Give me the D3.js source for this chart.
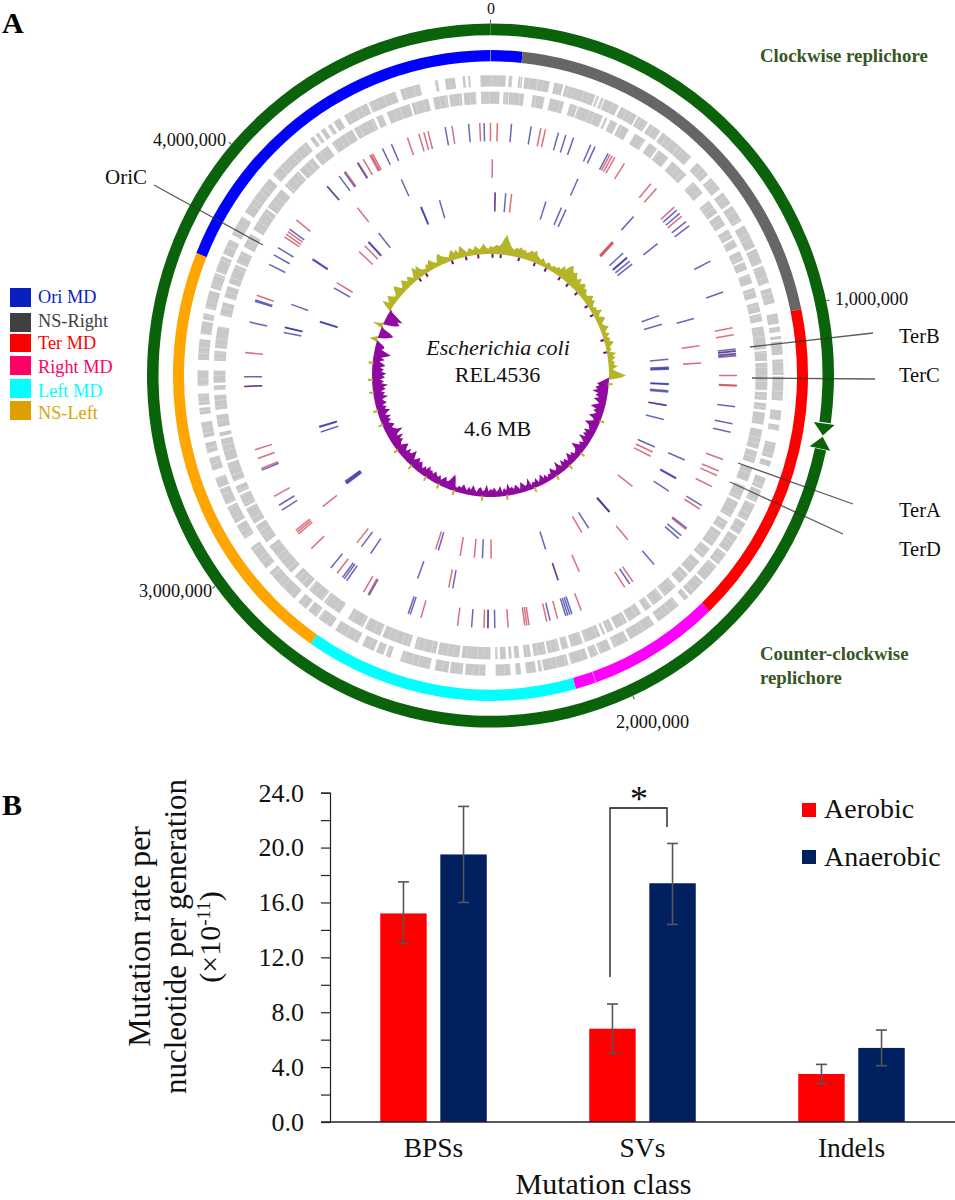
<!DOCTYPE html>
<html><head><meta charset="utf-8">
<script src="https://d3js.org/d3.v7.min.js"></script>
<style>html,body{margin:0;padding:0;background:#fff}svg{display:block}text{font-family:"Liberation Serif","Times New Roman",serif}</style>
</head><body><div id="chart"></div>
<script>
// ---------- Panel A data (map positions read in degrees clockwise from 0) ----------
const genomeLength = 4630000;
const genomeTicks = [0, 1000000, 2000000, 3000000, 4000000];
const macrodomainNames = ["Ori MD","NS-Right","Ter MD","Right MD","Left MD","NS-Left"];
const macrodomainStart = [292.1, 5.8, 78.2, 136.4, 164.4, 214.5];
const macrodomainEnd   = [365.8, 78.2, 136.4, 164.4, 214.5, 292.1];

const outerGeneBlocks = [[-2,3],[3.6,4.3],[5.5,5.9],[6,6.3],[6.7,11.7],[12.6,14.4],[14.8,21],[21.3,21.8],[22.2,22.8],[23,26],[26.5,30],[30.3,32.5],[33,35.5],[36,43.3],[44.9,48],[48.8,51.6],[52.4,55],[55.5,59],[60,64.6],[65,68],[68.5,72],[73,76],[78,80],[80.6,81.6],[82.4,83],[83.4,86],[86.9,89.9],[90.2,94.8],[96.7,98.6],[99.5,100.6],[103,106],[106.6,107.7],[110,112.2],[112.5,115],[115.5,119],[119.5,122],[122.5,126],[126.5,129],[129.5,133],[133.5,137],[137.5,138.5],[140,145],[146,151.5],[152,155],[155.7,158],[158.4,160],[160.5,164],[164.5,169.5],[169.8,170.5],[171,173],[174,175],[176,179],[181,185],[185.5,188],[188.3,191],[192,198],[200,201],[201.5,203],[203.5,206],[207,212],[213,216],[216.5,218.5],[219,221],[222,229],[230,235],[237,240],[240.5,244],[244.5,247.7],[248,250],[251.5,254],[255,257],[258,261],[262.5,263.8],[264.3,266.5],[268,271],[273,277],[278,280.5],[280.8,282],[283,286.5],[287,290],[290.3,293.5],[294,297],[298,302],[303,311],[312,321],[322,322.8],[323.3,324],[324.6,325.5],[326.2,327],[327.6,329],[330,335],[335.4,341],[342,346],[349,349.6],[351,353],[354.5,355],[355.6,356]];
const innerGeneBlocks = [[-2,1.9],[2.7,3.8],[3.9,7],[8.8,11.3],[12.4,15.4],[16.7,18.3],[18.5,24],[24.5,25],[25.7,27.3],[27.8,30],[31.5,34],[35,37],[37.4,40],[41,45],[47,50],[52,55],[55.5,58],[59,61],[61.4,63],[64,66],[66.3,68],[69,71],[72,74],[75,77],[77.4,79],[80,84.6],[85,87],[87.4,93],[93.4,95],[95.6,97],[97.5,100],[101,105],[105.5,108],[109,112],[113,116],[116.5,120],[121,123],[123.6,127],[127.6,130],[131,134],[134.5,137],[138,141],[141.5,144],[144.5,146],[147,150],[150.4,153],[153.6,155],[155.5,156],[156.6,160],[160.5,163],[163.6,165],[165.5,168],[168.4,171],[171.6,173],[174,175],[175.6,176.2],[176.8,178],[178.5,179],[180,186],[186.5,191],[191.4,196],[197,203],[203.5,207],[207.5,211],[213,217],[217.4,221],[221.5,225],[226,233],[234,238],[238.5,242],[242.4,245],[245.5,247],[248,252],[252.5,257],[257.6,258.4],[259.5,262],[263,266],[267,268],[268.5,271],[273,275],[275.6,280],[282.3,285],[286,288.4],[289,293],[293.4,296],[297,300],[301,306],[306.4,311],[312,316],[316.4,320],[320.6,324],[325,330],[330.4,335],[335.6,337],[338,343],[343.4,347],[348,351],[351.4,354],[354.4,357]];

const track1Red = [357.5,0,1.6,11.8,12.9,29,29.6,30.3,32.9,40.6,42.3,48.2,50.9,79.1,80.7,84.4,85.2,90,92.2,92.4,109.4,112.2,113.3,116.1,121.9,127.5,144.7,147,158.4,164.2,166.8,171,171.5,172,175.9,180.6,181.5,187.7,196.4,209.8,211,218.5,226.7,231.2,231.7,232.2,241.4,248.4,250.8,252.9,267.5,275.2,288.5,303.3,304,304.7,308,318.5,323.9,327.5,328.9,330.7,331,331.4,340.3,343.1,344.3,345.3,351];
const track1Blue = [358.5,4.9,9.5,16,17.8,19.7,24,25.1,28.5,49.1,50.1,52.5,53.7,63.1,70.7,84,84.5,85,85.5,97.1,101,103,121,127.2,129.3,130.2,138.4,145.6,160.7,161.2,161.7,162.2,166,179,180.6,184.4,199,199.5,209.5,215.7,216.4,216.9,220.4,237.8,239.1,248,267.5,269.7,282.2,287.1,287.4,296.1,298.5,300.4,305.4,318.5,322.1,323.6,327.3,334,336.3,349.4,354.9];
const track2Red = [0.5,82.1,86.7,139.4,155.1,161.3,191.4,219.3,232.7,320.9];
const track2Blue = [24.5,42.7,52.4,74.7,113,118.3,118.5,122.3,161.3,190.3,200.2,214.6,217.7,281.5,282.8,282.9,289.2,302.4,302.6,335];
const track3Red = [1.5,6.8,43,43.3,43.6,99.4,114.7,116.2,127.3,138.3,149.2,179.8,185.2,189.8,197.9,300.5,312.6,315.2];
const track3Blue = [1.5,4.9,18.1,23.4,25,48,49.8,50,51.3,52.5,70.9,73.7,84.9,87.4,87.7,88,92.6,92.8,94.8,95.2,99.4,103.9,113,138.1,138.3,146.6,162,182.6,197,233.7,234,234.3,234.6,252,253.6,253.8,287,287.2,298.6,316.8,317,321.2,337,337.2,343.4];

// GC skew read every degree from 0 (positive = outward, negative = inward)
const gcSkew = [
 6,5,6,7,6,8,12,15,11,8, 6,5,7,6,8,6,7,5,6,8, 7,9,6,5,4,6,4,3,5,4, 3,5,4,6,5,9,7,11,13,10,
 9,11,8,7,10,6,8,9,6,7, 5,4,6,8,5,7,4,3,5,4, 8,5,3,6,7,4,3,5,7,4, 3,6,3,5,4,7,5,3,4,2,
 7,4,6,3,5,4,7,3,5,9, 13,9,-3,-6,-9,-7,-10,-8,-12,-7, -9,-6,-10,-7,-5,-8,-11,-6,-8,-5, -7,-10,-6,-5,-8,-11,-7,-6,-5,-9,
 -6,-8,-5,-10,-6,-4,-7,-5,-8,-11, -6,-5,-4,-7,-5,-9,-6,-4,-7,-5, -8,-4,-6,-10,-5,-4,-6,-8,-4,-5, -3,-6,-4,-8,-5,-3,-7,-4,-5,-3,
 -9,-5,-4,-6,-8,-3,-5,-7,-4,-6, -5,-9,-4,-6,-3,-8,-5,-4,-7,-5, -6,-4,-9,-5,-4,-7,-6,-3,-5,-8, -4,-6,-3,-5,-7,-4,-5,-3,-4,-9,
 -12,-9,-6,-5,-8,-6,-4,-7,-5,-6, -8,-5,-7,-6,-9,-5,-7,-4,-6,-8, -6,-9,-7,-5,-8,-11,-7,-6,-9,-5, -7,-10,-8,-5,-6,-9,-7,-11,-6,-8,
 -13,-9,-7,-6,-9,-7,-5,-8,-6,-9, -5,-7,-10,-6,-8,-5,-9,-7,-6,-11, -7,-9,-6,-10,-8,-12,-7,-9,-6,-10, -8,-11,-7,-9,-6,-10,-8,-5,-9,-6,
 -10,-13,-9,-5,-7,-6,-3,6,3,-6, -9,-11,-8,-2,8,2,-7,-10,-12,-9, -13,-8,-2,5,9,4,6,8,5,3, 4,7,9,6,3,5,8,6,4,7,
 5,3,6,10,7,9,5,4,3,6, 5,8,6,4,3,7,9,6,5,4, 3,6,8,5,7,4,9,7,5,3, 6,5,4,7,5,4,6,8,5,4];
const gcMinorOut = [94,112,130,138,146,158,172,184,198,206,213,222,232,246,253,262,268,276];
const gcMinorIn = [1,5,14,22,28,36,41,47,55,60,73,79,323,327,341,348,354];

const calloutNames = ["OriC","TerB","TerC","TerA","TerD"];

// ---------- Panel B data ----------
const mutationClasses = ["BPSs","SVs","Indels"];
const conditions = ["Aerobic","Anaerobic"];
const aerobicRate = [15.2,6.8,3.5];
const aerobicLow = [13.0,5.0,2.8];
const aerobicHigh = [17.5,8.6,4.2];
const anaerobicRate = [19.5,17.4,5.4];
const anaerobicLow = [16.0,14.4,4.1];
const anaerobicHigh = [23.0,20.3,6.7];
const yTickValues = [0,2,4,6,8,10,12,14,16,18,20,22,24];

// ---------- Drawing ----------
const svg = d3.select("#chart").append("svg").attr("width",955).attr("height",1200);
const cx = 490.5, cy = 375.5, yStretch = 1.025;
const map = svg.append("g").attr("transform",`translate(${cx},${cy}) scale(1,${yStretch})`);
const ang = d3.scaleLinear().domain([0,360]).range([0,2*Math.PI]);
const bp = d3.scaleLinear().domain([0,genomeLength]).range([0,360]);
const arc = d3.arc();
const mdColors = ["#0000ff","#666666","#ff0000","#ff00ff","#00ffff","#ffa500"];
const ringGreen = "#0a620a";

// green replichore rings
const greenIn = 332, greenOut = 343.5;
map.append("path").attr("fill",ringGreen).attr("d",arc({innerRadius:greenIn,outerRadius:greenOut,startAngle:ang(102.3),endAngle:ang(360)}));
map.append("path").attr("fill",ringGreen).attr("d",arc({innerRadius:greenIn,outerRadius:greenOut,startAngle:ang(0),endAngle:ang(97.8)}));
function arrow(a0,aTip){
  const wing=[d3.pointRadial(ang(a0),326.5),d3.pointRadial(ang(a0),347.5),d3.pointRadial(ang(aTip),337.5)];
  map.append("path").attr("fill",ringGreen).attr("d","M"+wing.join("L")+"Z");
}
arrow(98,100);
arrow(102.2,100.2);

// macrodomains
map.selectAll("path.md").data(macrodomainNames).join("path").attr("class","md")
 .attr("fill",(d,i)=>mdColors[i])
 .attr("d",(d,i)=>arc({innerRadius:306.5,outerRadius:317.5,startAngle:ang(macrodomainStart[i]),endAngle:ang(macrodomainEnd[i])}));
[0,160.6].forEach(a=>{const p=[d3.pointRadial(ang(a),306.5),d3.pointRadial(ang(a),317.5)];
 map.append("path").attr("d","M"+p.join("L")).attr("stroke","#fff").attr("stroke-opacity",.5).attr("stroke-width",1);});

// gene bands, with fine white striations between individual genes
function band(data,r0,r1,dash){
 map.append("g").selectAll("path").data(data).join("path").attr("fill","#c8c8c8")
  .attr("d",d=>arc({innerRadius:r0,outerRadius:r1,startAngle:ang(d[0]),endAngle:ang(d[1])}));
 map.append("circle").attr("r",(r0+r1)/2).attr("fill","none").attr("stroke","#fff").attr("stroke-opacity",.32)
  .attr("stroke-width",r1-r0+1).attr("stroke-dasharray",dash);
}
band(outerGeneBlocks,282,293,"0.8 5.1 0.6 8.2 0.9 4.4 0.5 10.3");
band(innerGeneBlocks,265,277,"0.7 4.6 0.9 7.4 0.5 5.3 0.8 9.7");

// mutation tracks
function ticks(data,r0,r1,color){
 map.append("g").selectAll("path").data(data).join("path")
  .attr("stroke",color).attr("stroke-width",1.5).attr("stroke-opacity",.72).attr("fill","none")
  .attr("d",d=>"M"+d3.pointRadial(ang(d),r0)+"L"+d3.pointRadial(ang(d),r1));
}
const tickRed="#c93a4e", tickBlue="#2c2ca0";
ticks(track1Red,228.5,246.5,tickRed); ticks(track1Blue,228.5,246.5,tickBlue);
ticks(track2Red,193,211,tickRed); ticks(track2Blue,193,211,tickBlue);
ticks(track3Red,160,178.5,tickRed); ticks(track3Blue,160,178.5,tickBlue);

// GC skew
const gcBase = 118.5;
const gcHeight = d3.scaleLinear().domain([-13,13]).range([-17,17]);
const up = d3.areaRadial().angle((d,i)=>ang(i)).innerRadius(gcBase).outerRadius(d=>gcBase+Math.max(0,gcHeight(d)));
const down = d3.areaRadial().angle((d,i)=>ang(i)).innerRadius(d=>gcBase+Math.min(0,gcHeight(d))).outerRadius(gcBase);
map.append("path").attr("fill","#b5b52a").attr("d",up([...gcSkew,gcSkew[0]]));
map.append("path").attr("fill","#8f0a9e").attr("d",down([...gcSkew,gcSkew[0]]));
map.append("g").selectAll("path").data(gcMinorOut).join("path").attr("stroke","#b5b52a").attr("stroke-width",2)
 .attr("d",d=>"M"+d3.pointRadial(ang(d),gcBase-1)+"L"+d3.pointRadial(ang(d),gcBase+4));
map.append("g").selectAll("path").data(gcMinorIn).join("path").attr("stroke","#6a0a8e").attr("stroke-width",2)
 .attr("d",d=>"M"+d3.pointRadial(ang(d),gcBase)+"L"+d3.pointRadial(ang(d),gcBase-3.5));

// scale ticks
genomeTicks.forEach(t=>{
 const a=ang(bp(t));const p=[d3.pointRadial(a,343.5),d3.pointRadial(a,347)];
 map.append("path").attr("d","M"+p.join("L")).attr("stroke","#555").attr("stroke-width",1);
});

function txt(s,x,y,size,opt={}){
 const t=svg.append("text").attr("x",x).attr("y",y).attr("font-size",size).attr("fill",opt.fill||"#111").text(s);
 if(opt.anchor)t.attr("text-anchor",opt.anchor);
 if(opt.weight)t.attr("font-weight",opt.weight);
 if(opt.style)t.attr("font-style",opt.style);
 return t;
}
const tickFmt = d3.format(",");
const tickLabelPos = [[491,14,"middle",16],[835,305,"start",18.3],[652.5,728,"middle",18.3],[175.5,597,"middle",18.3],[189.5,146,"middle",18.3]];
genomeTicks.forEach((t,i)=>{const q=tickLabelPos[i];txt(tickFmt(t),q[0],q[1],q[3],{anchor:q[2]});});

// leader lines and labels
const leaderFrom=[[154,185],[873,333],[875,379],[853,504],[843,534]];
const leaderTo=[[263,245],[750,347],[752,378],[738,463],[730,482]];
const calloutPos=[[105,184],[899,343],[899,382],[899,517],[899,556]];
svg.append("g").selectAll("line").data(calloutNames).join("line")
 .attr("x1",(d,i)=>leaderFrom[i][0]).attr("y1",(d,i)=>leaderFrom[i][1])
 .attr("x2",(d,i)=>leaderTo[i][0]).attr("y2",(d,i)=>leaderTo[i][1])
 .attr("stroke","#333").attr("stroke-opacity",.8).attr("stroke-width",1.3);
calloutNames.forEach((n,i)=>txt(n,calloutPos[i][0],calloutPos[i][1],i?20.5:21));

txt("Escherichia coli",498,355,22,{anchor:"middle",style:"italic"});
txt("REL4536",497.5,382,22,{anchor:"middle"});
txt("4.6 MB",497.5,436,22,{anchor:"middle"});
const green="#375623";
txt("Clockwise replichore",760,62,18.8,{fill:green,weight:"bold"});
txt("Counter-clockwise",760,660,18.8,{fill:green,weight:"bold"});
txt("replichore",760,684,18.8,{fill:green,weight:"bold"});
txt("A",2,33,30,{weight:"bold",fill:"#000"});
txt("B",2,815,30,{weight:"bold",fill:"#000"});

// legend panel A
const legSwatch=["#0a1fc0","#404040","#ff0000","#ff0066","#00ffff","#dca000"];
const legTop=[288,313,334,356,379,401];
const legHeight=[19,19,18,19,19,19];
const legBase=[303,327,349,373,397,419];
macrodomainNames.forEach((n,i)=>{
 svg.append("rect").attr("x",10).attr("y",legTop[i]).attr("width",21).attr("height",legHeight[i]).attr("fill",legSwatch[i]);
 txt(n,38,legBase[i],18.3,{fill:legSwatch[i]==="#dca000"?"#d9a400":legSwatch[i]});
});

// ---------- Panel B ----------
const y = d3.scaleLinear().domain([0,24]).range([1122,792.7]);
const x0 = d3.scaleBand().domain(mutationClasses).range([329,956]);
const x1 = d3.scaleBand().domain(conditions).range([-53.25,53.25]).paddingInner(.227);
const bars = [
 {name:"Aerobic",v:aerobicRate,lo:aerobicLow,hi:aerobicHigh,c:"#ff0000"},
 {name:"Anaerobic",v:anaerobicRate,lo:anaerobicLow,hi:anaerobicHigh,c:"#002060"}];
bars.forEach(s=>{
 const g=svg.append("g");
 g.selectAll("rect").data(mutationClasses).join("rect")
  .attr("x",d=>x0(d)+x0.bandwidth()/2+x1(s.name)).attr("width",x1.bandwidth())
  .attr("y",(d,i)=>y(s.v[i])).attr("height",(d,i)=>y(0)-y(s.v[i])).attr("fill",s.c);
 mutationClasses.forEach((d,i)=>{
  const xc=x0(d)+x0.bandwidth()/2+x1(s.name)+x1.bandwidth()/2;
  const e=g.append("g").attr("stroke","#555").attr("stroke-width",1.6);
  e.append("line").attr("x1",xc).attr("x2",xc).attr("y1",y(s.lo[i])).attr("y2",y(s.hi[i]));
  [s.lo[i],s.hi[i]].forEach(v=>e.append("line").attr("x1",xc-5.5).attr("x2",xc+5.5).attr("y1",y(v)).attr("y2",y(v)));
 });
});
const yAxis = d3.axisLeft(y).tickValues(yTickValues).tickSize(9).tickFormat(d=>d%4===0?d.toFixed(1):"");
const ya = svg.append("g").attr("transform","translate(330,0)").call(yAxis);
ya.selectAll("line,path").attr("stroke","#222").attr("stroke-width",1.2);
ya.selectAll("text").attr("font-size",26).attr("fill","#111").attr("x",-26).attr("font-family",'"Liberation Serif"');
const xAxis = d3.axisBottom(x0).tickSize(0).tickPadding(15);
const xa = svg.append("g").attr("transform","translate(0,1122)").call(xAxis);
xa.select("path").attr("d","M321,0H955").attr("stroke","#222").attr("stroke-width",1.6);
xa.selectAll("text").attr("font-size",27.5).attr("fill","#111").attr("font-family",'"Liberation Serif"');
txt("Mutation class",603.5,1194,30,{anchor:"middle"});
[["Mutation rate per",150,31.8],["nucleotide per generation",186,31]].forEach(([s,px,fs])=>{
 txt(s,0,0,fs,{anchor:"middle"}).attr("transform",`translate(${px},936.5) rotate(-90)`);
});
const t3=txt("(×10",0,0,30,{anchor:"middle"}).attr("transform","translate(220,937) rotate(-90)");
t3.append("tspan").attr("font-size",19).attr("dy",-10).text("-11");
t3.append("tspan").attr("dy",10).text(")");
svg.append("path").attr("d","M610,977V808H667V827").attr("fill","none").attr("stroke","#111").attr("stroke-width",1.3);
txt("*",639,811,36,{anchor:"middle"});
bars.forEach((s,i)=>{
 svg.append("rect").attr("x",802).attr("y",[803,850][i]).attr("width",14).attr("height",14).attr("fill",s.c);
 txt(s.name,824,[818,866][i],28);
});
</script></body></html>
